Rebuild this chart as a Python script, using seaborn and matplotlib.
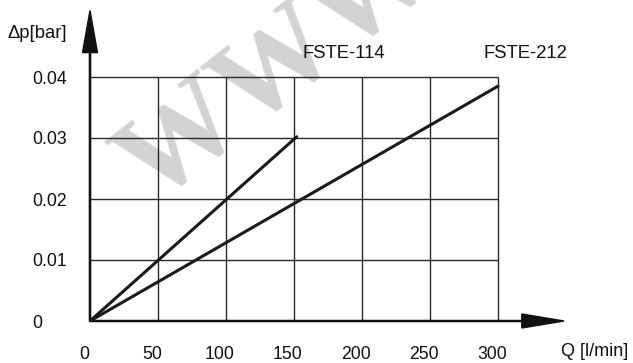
import matplotlib
matplotlib.use("Agg")
import matplotlib.pyplot as plt
import matplotlib.transforms as mtransforms
import seaborn as sns
import pandas as pd

# (both straight lines from the origin)
q_114 = [0, 152]
dp_114 = [0, 0.0302]
q_212 = [0, 300]
dp_212 = [0, 0.0385]
series_names = ["FSTE-114", "FSTE-212"]
x_ticks = [0, 50, 100, 150, 200, 250, 300]
y_ticks = [0, 0.01, 0.02, 0.03, 0.04]
y_tick_labels = ["0", "0.01", "0.02", "0.03", "0.04"]

df = pd.DataFrame({
    "Q": q_114 + q_212,
    "dp": dp_114 + dp_212,
    "model": [series_names[0]] * len(q_114) + [series_names[1]] * len(q_212),
})

sns.set_style("white")
plt.rcParams["font.family"] = ["Liberation Sans", "DejaVu Sans"]

fig = plt.figure(figsize=(6.33, 3.63), dpi=100)
ax = fig.add_axes([90 / 633, 42 / 363, 480 / 633, 313 / 363])
ax.set_xlim(0, 480 / 1.36)
ax.set_ylim(0, 313 / 6100)
ax.patch.set_alpha(0)
for s in ax.spines.values():
    s.set_visible(False)

# watermark
ax.text(45.6, 0.0189, "WWW", rotation=38, rotation_mode="anchor", fontsize=88,
        family="Liberation Serif", weight="bold", color="#d3d3d3",
        ha="left", va="baseline", zorder=0, clip_on=False)

# grid box
ax.vlines(x_ticks[1:], 0, y_ticks[-1], color="#2a2a2a", lw=1, zorder=2)
ax.hlines(y_ticks[1:], 0, x_ticks[-1], color="#2a2a2a", lw=1, zorder=2)

# axes with arrow heads
ax.arrow(0, 0, 0, 0.0509, width=0.9, head_width=11, head_length=0.0069,
         length_includes_head=True, color="#111111", zorder=3, clip_on=False)
ax.arrow(0, 0, 348.5, 0, width=0.00018, head_width=0.0023, head_length=31,
         length_includes_head=True, color="#111111", zorder=3, clip_on=False)

sns.lineplot(data=df, x="Q", y="dp", hue="model", palette=["#1a1a1a", "#1a1a1a"],
             linewidth=2.2, legend=False, ax=ax, zorder=4)

ax.set_xticks(x_ticks)
ax.set_xticklabels([str(v) for v in x_ticks])
ax.set_yticks(y_ticks)
ax.set_yticklabels(y_tick_labels)
ax.tick_params(axis="x", length=0, pad=18, labelsize=12.7, colors="#111111")
ax.tick_params(axis="y", length=0, pad=41.8, labelsize=12.7, colors="#111111")
shift = mtransforms.ScaledTranslation(-6 / 100, 0, fig.dpi_scale_trans)
for lbl in ax.get_xticklabels():
    lbl.set_transform(lbl.get_transform() + shift)
for lbl in ax.get_yticklabels():
    lbl.set_horizontalalignment("left")
ax.set_xlabel("")
ax.set_ylabel("")

ax.text(156, 0.0439, series_names[0], fontsize=13.3, ha="left", va="center", color="#111111")
ax.text(289, 0.0439, series_names[1], fontsize=13.3, ha="left", va="center", color="#111111")
fig.text(7 / 633, 1 - 33 / 363, "\u0394p[bar]", fontsize=13.3, ha="left", va="center", color="#111111")
fig.text(561 / 633, 1 - 352 / 363, "Q [l/min]", fontsize=13, ha="left", va="center", color="#111111")

fig.savefig("out.png", dpi=100)
